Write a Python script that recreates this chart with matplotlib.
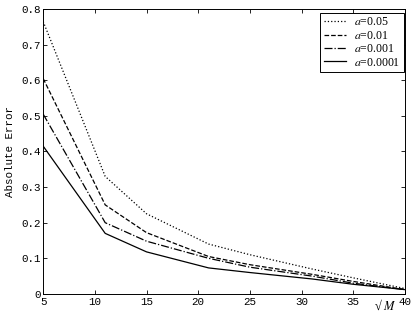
import matplotlib
matplotlib.use("Agg")
from matplotlib import pyplot as plt

plt.rcParams.update({
    "font.family": "Liberation Mono",
    "font.size": 7.8,
    "mathtext.fontset": "stix",
    "xtick.direction": "in",
    "ytick.direction": "in",
    "xtick.top": True,
    "ytick.right": True,
})

sqrt_m = [5, 11, 15, 21, 25, 31, 35, 40]
err_005 = [0.765, 0.33, 0.225, 0.14, 0.11, 0.07, 0.045, 0.015]
err_001 = [0.605, 0.25, 0.172, 0.105, 0.082, 0.055, 0.035, 0.012]
err_0001 = [0.505, 0.20, 0.148, 0.10, 0.075, 0.05, 0.03, 0.012]
err_00001 = [0.415, 0.17, 0.118, 0.073, 0.060, 0.042, 0.027, 0.012]

series = [
    (err_005, ":", "$a$=0.05"),
    (err_001, "--", "$a$=0.01"),
    (err_0001, "-.", "$a$=0.001"),
    (err_00001, "-", "$a$=0.0001"),
]

fig = plt.figure(figsize=(4.15, 3.12), dpi=100)
ax = fig.add_axes([0.104, 0.058, 0.872, 0.913])

for vals, ls, lab in series:
    ax.plot(sqrt_m, vals, ls=ls, c="k", lw=0.9, label=lab)

ax.set_xlim(5, 40)
ax.set_ylim(0, 0.8)
ax.set_xticks(range(5, 41, 5))
ax.set_yticks([i / 10 for i in range(9)])
ax.set_yticklabels(["0"] + [f"{i / 10:.1f}" for i in range(1, 9)])
ax.tick_params(length=3, width=0.6, pad=2)
for s in ax.spines.values():
    s.set_linewidth(0.7)

ax.set_ylabel("Absolute Error", labelpad=4)
ax.text(0.945, -0.015, "√ $M$", transform=ax.transAxes, ha="center", va="top",
        family="Liberation Serif", fontsize=9)

leg = ax.legend(loc="upper right", bbox_to_anchor=(0.997, 0.987),
                fancybox=False, edgecolor="k", framealpha=1,
                prop={"family": "Liberation Serif", "size": 8.5},
                handlelength=1.9, handletextpad=0.7, borderpad=0.3,
                labelspacing=0.12, borderaxespad=0)
leg.get_frame().set_linewidth(0.7)

fig.savefig("out.png", dpi=100)
